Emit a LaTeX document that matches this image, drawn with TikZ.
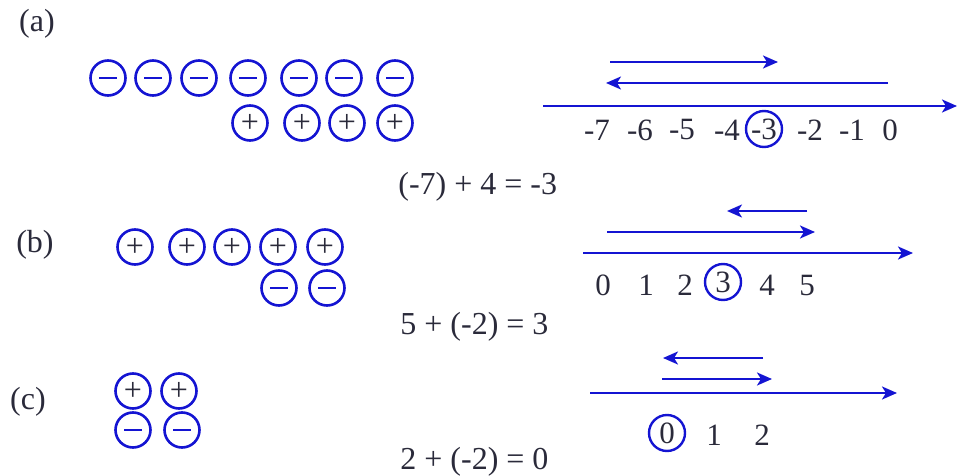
\documentclass[tikz,border=0pt]{standalone}
\usepackage{fontspec}
\setmainfont{Liberation Serif}
\usetikzlibrary{arrows.meta}
\definecolor{chg}{HTML}{1414D2}
\definecolor{ink}{HTML}{2A2A3A}
\tikzset{
  >={Stealth[length=7.5pt,width=6.5pt,inset=2pt]},
  charge/.style={draw=chg,circle,line width=1.3pt,minimum size=17.5pt,inner sep=0pt},
  poschg/.style={charge,font=\fontsize{16}{16}\selectfont,text=ink},
  negchg/.style={charge,path picture={\draw[chg,line width=1.4pt] ([xshift=-4.5pt]path picture bounding box.center) -- ([xshift=4.5pt]path picture bounding box.center);}},
  numtick/.style={font=\fontsize{15.5}{18}\selectfont,text=ink},
  hit/.style={numtick,draw=chg,circle,line width=1.2pt,minimum size=18pt,inner sep=0pt},
  arr/.style={->,draw=chg,line width=1.2pt},
  lab/.style={font=\fontsize{16}{18}\selectfont,text=ink,inner sep=0pt},
}
\begin{document}
\begin{tikzpicture}[x=0.5pt,y=-0.5pt]
\useasboundingbox (0,0) rectangle (958,476);
% (a)
\node[lab] (la) at (37,24) {(a)};
\foreach \x [count=\k] in {108,153,199,248,299,344,395}
  \node[negchg] (an\k) at (\x,78) {};
\foreach \x [count=\k] in {250,302,347,395}
  \node[poschg] (ap\k) at (\x,123) {+};
\coordinate (aL) at (543,106); \coordinate (aR) at (957,106);
\coordinate (a1s) at (610,62); \coordinate (a1e) at (778,62);
\coordinate (a2s) at (888,83); \coordinate (a2e) at (606,83);
\draw[arr] (aL) -- (aR);
\draw[arr] (a1s) -- (a1e);
\draw[arr] (a2s) -- (a2e);
\foreach \x/\t [count=\k] in {597/-7,640/-6,682/-5,727/-4,810/-2,852/-1,890/0}
  \node[numtick] (ta\k) at (\x,130) {\t};
\node[hit] (tahit) at (764,129) {-3};
\node[lab,anchor=west] (eqa) at (398,187) {(-7) + 4 = -3};
% (b)
\node[lab] (lb) at (35,245) {(b)};
\foreach \x [count=\k] in {135,187,232,278,325}
  \node[poschg] (bp\k) at (\x,247) {+};
\foreach \x [count=\k] in {279,327}
  \node[negchg] (bn\k) at (\x,288) {};
\coordinate (bL) at (583,253); \coordinate (bR) at (913,253);
\coordinate (b1s) at (807,211); \coordinate (b1e) at (727,211);
\coordinate (b2s) at (607,232); \coordinate (b2e) at (815,232);
\draw[arr] (bL) -- (bR);
\draw[arr] (b1s) -- (b1e);
\draw[arr] (b2s) -- (b2e);
\foreach \x/\t [count=\k] in {603/0,646/1,685/2,767/4,807/5}
  \node[numtick] (tb\k) at (\x,285) {\t};
\node[hit] (tbhit) at (723,282) {3};
\node[lab,anchor=west] (eqb) at (400,327) {5 + (-2) = 3};
% (c)
\node[lab] (lc) at (28,402) {(c)};
\foreach \x [count=\k] in {133,179}
  \node[poschg] (cp\k) at (\x,391) {+};
\foreach \x [count=\k] in {133,182}
  \node[negchg] (cn\k) at (\x,430) {};
\coordinate (cL) at (590,393); \coordinate (cR) at (897,393);
\coordinate (c1s) at (763,358); \coordinate (c1e) at (663,358);
\coordinate (c2s) at (662,379); \coordinate (c2e) at (772,379);
\draw[arr] (cL) -- (cR);
\draw[arr] (c1s) -- (c1e);
\draw[arr] (c2s) -- (c2e);
\foreach \x/\t [count=\k] in {714/1,762/2}
  \node[numtick] (tc\k) at (\x,435) {\t};
\node[hit] (tchit) at (667,433) {0};
\node[lab,anchor=west] (eqc) at (400,462) {2 + (-2) = 0};
\end{tikzpicture}
\end{document}
